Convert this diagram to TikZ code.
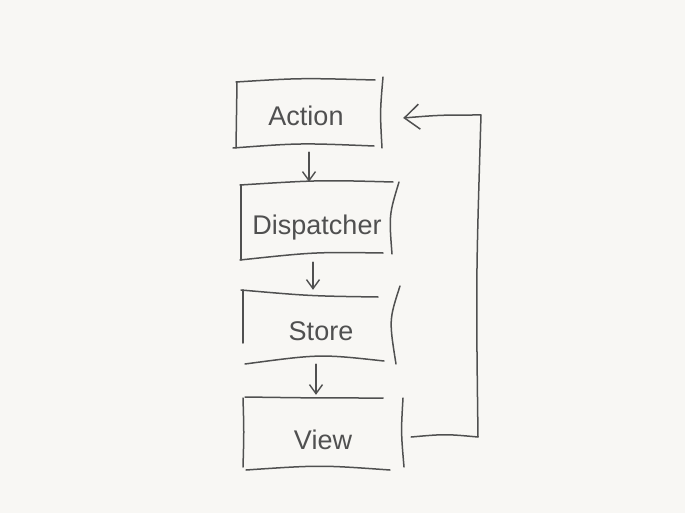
\documentclass[tikz,border=0pt]{standalone}
\usepackage{fontspec}
\setmainfont{Liberation Sans}
\usetikzlibrary{arrows.meta}
\definecolor{bg}{HTML}{F8F7F4}
\definecolor{ink}{HTML}{505050}
\begin{document}
\begin{tikzpicture}[x=1pt,y=-1pt,
  stroke/.style={draw=ink,line width=1.5pt,line cap=round,line join=round},
  boxtext/.style={draw=none,text=ink,font=\fontsize{27}{30}\selectfont,
     text height=26pt,text depth=0pt,inner sep=0pt},
  downarr/.style={stroke,-{Straight Barb[length=9pt,width=13pt,line width=1.4pt]}},
  backarr/.style={stroke,-{Straight Barb[length=15pt,width=25pt,line width=1.5pt]}}]
\fill[bg] (0,0) rectangle (685,513);
\useasboundingbox (0,0) rectangle (685,513);

% text nodes (boxes)
\node[boxtext,minimum width=146pt,minimum height=70pt] (action) at (306,113) {Action};
\node[boxtext,minimum width=152pt,minimum height=78pt] (dispatcher) at (317,221) {Dispatcher};
\node[boxtext,minimum width=154pt,minimum height=74pt] (store) at (321,327) {Store};
\node[boxtext,minimum width=160pt,minimum height=76pt] (view) at (323,436) {View};

% sketchy box strokes: Action
\draw[stroke] (236,82) .. controls (300,78) .. (375,80);
\draw[stroke] (237,82) .. controls (236,115) .. (236,148);
\draw[stroke] (233,148) .. controls (300,143) .. (374,146);
\draw[stroke] (383,77) .. controls (380,112) .. (382,148);
% Dispatcher
\draw[stroke] (240,185) .. controls (320,180) .. (393,182);
\draw[stroke] (241,185) .. controls (241,222) .. (241,260);
\draw[stroke] (240,260) .. controls (315,252) .. (383,253);
\draw[stroke] (399,182) .. controls (389,215) .. (392,254);
% Store
\draw[stroke] (241,290) .. controls (310,296) .. (378,297);
\draw[stroke] (243,290) .. controls (243,317) .. (243,343);
\draw[stroke] (245,364) .. controls (320,354) .. (384,361);
\draw[stroke] (400,286) .. controls (389,320) .. (396,364);
% View
\draw[stroke] (245,397) .. controls (315,398) .. (383,398);
\draw[stroke] (243,398) .. controls (244,432) .. (243,467);
\draw[stroke] (246,470) .. controls (320,465) .. (390,470);
\draw[stroke] (403,398) .. controls (401,432) .. (404,467);

% downward connectors
\draw[downarr] ([xshift=3pt,yshift=-4pt]action.south) -- ([xshift=3pt]action.south |- dispatcher.north);
\draw[downarr] ([xshift=-4pt,yshift=-2pt]dispatcher.south) -- ([xshift=-4pt]dispatcher.south |- store.north);
\draw[downarr] ([xshift=-5pt]store.south) -- ([xshift=-5pt,yshift=3pt]store.south |- view.north);

% feedback loop
\coordinate (loopout) at ([xshift=8pt,yshift=-1pt]view.east);
\coordinate (loopin) at ([xshift=24pt,yshift=-5pt]action.east);
\draw[backarr] (loopout) .. controls (445,434) .. (478,437)
   .. controls (476,280) .. (481,115) .. controls (440,115) .. (loopin);
\end{tikzpicture}
\end{document}
